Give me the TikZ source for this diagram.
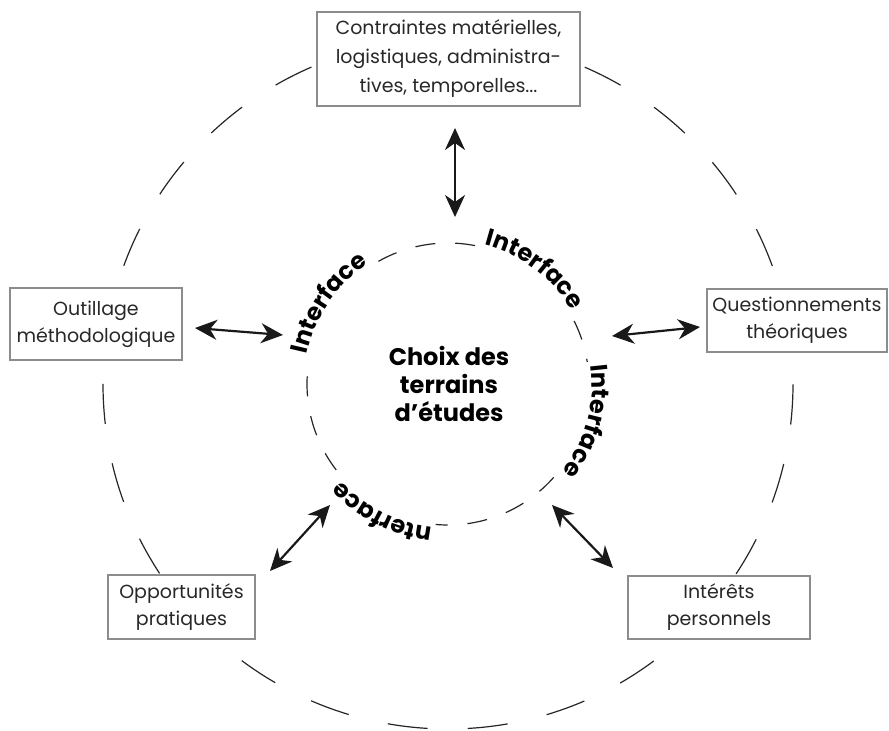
\documentclass[tikz,border=0pt]{standalone}
\usepackage{fontspec}
\setmainfont{Poppins}
\usetikzlibrary{arrows.meta,decorations.text}
\definecolor{boxgray}{RGB}{140,140,140}
\definecolor{txtgray}{RGB}{40,40,40}
\newcommand{\ifont}{\fontsize{24}{24}\selectfont\bfseries}
\begin{document}
\begin{tikzpicture}[x=1pt,y=1pt,
  box/.style={draw=boxgray, line width=1.1pt, fill=white, align=center, inner sep=0pt,
    font=\fontsize{19}{27}\selectfont, text=txtgray},
  dbl/.style={{Stealth[length=22pt,width=20pt,inset=7pt]}-{Stealth[length=22pt,width=20pt,inset=7pt]}, line width=2.2pt, black!90},
  outerc/.style={draw=black!85, line width=1.2pt, dash pattern=on 40.14pt off 40.14pt, dash phase=40.14pt},
  innerc/.style={draw=black!85, line width=1.2pt, dash pattern=on 20pt off 20pt, dash phase=-6pt},
  iface/.style={decorate, decoration={text along path, text align=center, text={|\ifont|#1}}}
]
\useasboundingbox (0,0) rectangle (889,-731);
\coordinate (C) at (448,-384);
% outer circle
\draw[outerc] (C) circle[radius=345];
% inner circle, interrupted by the labels
\draw[innerc] ([shift={(122:141)}]C) arc[start angle=122, end angle=77, radius=141];
\draw[innerc] ([shift={(29:141)}]C) arc[start angle=29, end angle=9, radius=141];
\draw[innerc] ([shift={(-39:141)}]C) arc[start angle=-39, end angle=-95, radius=141];
\draw[innerc] ([shift={(220:141)}]C) arc[start angle=220, end angle=170, radius=141];
% boxes
\node[box, minimum width=263pt, minimum height=94pt, font=\fontsize{19}{29}\selectfont] (top) at (448.5,-59)
  {Contraintes matérielles,\\logistiques, administra-\\tives, temporelles...};
\node[box, minimum width=172pt, minimum height=72pt] (left) at (96,-324)
  {Outillage\\méthodologique};
\node[box, minimum width=180pt, minimum height=63pt] (right) at (797,-320.5)
  {Questionnements\\théoriques};
\node[box, minimum width=147pt, minimum height=64pt] (bl) at (181.5,-607)
  {Opportunités\\pratiques};
\node[box, minimum width=182pt, minimum height=63pt] (br) at (719,-607.5)
  {Intérêts\\personnels};
% centre
\node[align=center, font=\fontsize{24}{28}\selectfont\bfseries] (centre) at (449,-384)
  {Choix des\\terrains\\d’études};
% interface labels
\path[iface=Interface] ([shift={(181:144)}]C) arc[start angle=181, end angle=111, radius=144];
\path[iface=Interface] ([shift={(88:144)}]C) arc[start angle=88, end angle=18, radius=144];
\path[iface=Interface] ([shift={(20:144)}]C) arc[start angle=20, end angle=-50, radius=144];
\path[iface=nterface] ([shift={(278:144)}]C) arc[start angle=278, end angle=208, radius=144];
% arrow end points
\coordinate (t1) at (455,-128); \coordinate (t2) at (455,-217);
\coordinate (l1) at (195,-328); \coordinate (l2) at (283,-335);
\coordinate (r1) at (612,-336); \coordinate (r2) at (700,-327);
\coordinate (bl1) at (270,-571); \coordinate (bl2) at (330,-505);
\coordinate (br1) at (552,-505); \coordinate (br2) at (613,-568);
\draw[dbl] (t1) -- (t2);
\draw[dbl] (l1) -- (l2);
\draw[dbl] (r1) -- (r2);
\draw[dbl] (bl1) -- (bl2);
\draw[dbl] (br1) -- (br2);
\end{tikzpicture}
\end{document}
